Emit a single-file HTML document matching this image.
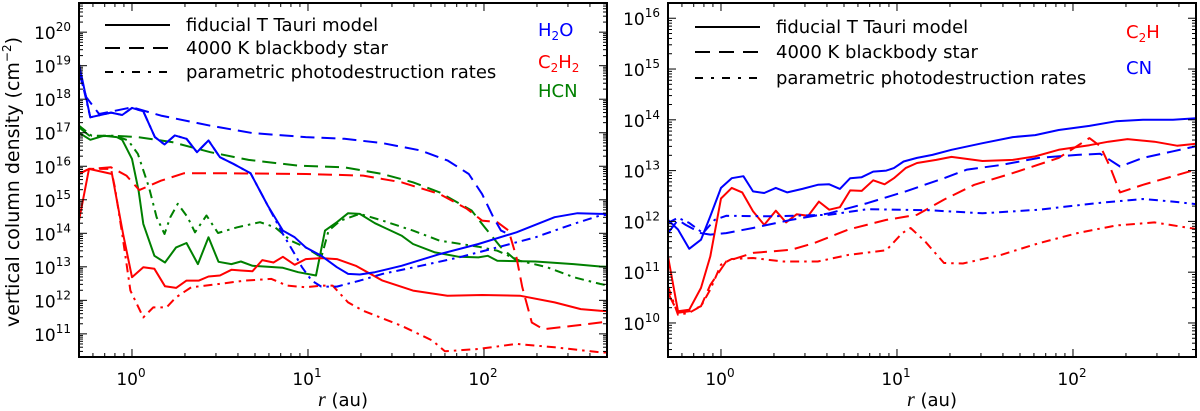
<!DOCTYPE html>
<html><head><meta charset="utf-8"><style>
html,body{margin:0;padding:0;background:#fff;}
svg{display:block;font-family:"DejaVu Sans","Liberation Sans",sans-serif;}
</style></head><body>
<svg id="chart" width="1200" height="411" viewBox="0 0 1200 411" xmlns="http://www.w3.org/2000/svg"></svg>
<script>
// ---------- Left panel data (r in au, log10 N in cm^-2) ----------
const h2oFidR=[0.5,0.58,0.76,0.88,1.0,1.16,1.35,1.53,1.75,2.04,2.34,2.72,3.16,3.77,4.72,5.9,7.2,8.4,9.7,11.9,14.6,16.9,19.7,24,34,56,93,153,252,340,457,500];
const h2oFidN=[19.05,17.46,17.6,17.53,17.74,17.64,16.87,16.65,16.92,16.82,16.42,16.77,16.27,16.07,15.79,14.83,14.08,13.88,13.58,13.33,12.99,12.79,12.77,12.84,13.03,13.38,13.68,14.03,14.48,14.6,14.58,14.58];
const h2oBbR=[0.5,0.55,0.65,1.0,1.46,2.79,4.84,9.7,16.1,26.5,43.7,62.3,82,97.6,113,125,138];
const h2oBbN=[18.8,18.06,17.56,17.76,17.51,17.21,16.99,16.87,16.82,16.69,16.47,16.17,15.77,15.17,14.48,14.08,13.98];
const h2oParR=[0.5,0.58,0.76,0.88,1.0,1.16,1.35,1.53,1.75,2.04,2.34,2.72,3.16,3.77,4.72,5.9,7.2,8.4,9.25,10.5,11.9,14.6,19.7,26.5,43.7,72,119,196,323,457,500];
const h2oParN=[18.9,17.46,17.6,17.53,17.74,17.64,16.87,16.65,16.92,16.82,16.42,16.77,16.27,16.07,15.79,14.83,13.98,13.38,12.99,12.59,12.41,12.41,12.59,12.79,13.03,13.28,13.58,13.88,14.28,14.53,14.55];
const hcnFidR=[0.5,0.58,0.69,0.82,0.88,1.0,1.09,1.16,1.34,1.54,1.78,2.04,2.37,2.72,3.1,3.67,4.16,4.84,5.9,7.2,8.8,11.1,12.5,14.6,16.9,19.7,24,34,39.5,52.7,72,93,105,119,196,323,457,500];
const hcnFidN=[17.0,16.79,16.91,16.87,16.79,16.22,15.27,14.28,13.33,13.13,13.58,13.71,13.08,13.88,13.15,13.08,13.16,13.03,13.0,12.97,12.84,12.74,14.08,14.33,14.6,14.58,14.3,13.93,13.68,13.43,13.3,13.28,13.33,13.18,13.16,13.08,13.01,13.0];
const hcnBbR=[0.5,0.58,0.8,1.08,1.69,2.79,4.6,8.8,16.1,26.5,39.5,56,85,101,125,153,165];
const hcnBbN=[17.16,16.89,16.91,16.87,16.72,16.42,16.19,16.02,15.97,15.77,15.52,15.22,14.68,14.18,13.58,13.18,13.1];
const hcnParR=[0.5,0.59,0.8,0.95,1.08,1.25,1.38,1.53,1.65,1.82,2.07,2.28,2.65,3.08,3.96,5.34,6.5,7.99,9.7,11.9,13.1,15.3,19.7,26.5,39.5,56,93,119,160,228,323,457,500];
const hcnParN=[17.21,16.91,16.91,16.77,16.37,15.37,14.48,13.98,14.48,14.88,14.48,14.03,14.53,14.01,14.18,14.33,14.18,13.78,13.58,13.28,14.08,14.38,14.58,14.38,14.08,13.78,13.6,13.48,13.18,12.99,12.69,12.49,12.45];
const c2h2FidR=[0.5,0.57,0.77,0.89,1.0,1.16,1.34,1.54,1.78,2.04,2.4,2.72,3.16,3.67,4.16,4.84,5.5,6.37,7.2,8.4,9.7,11.9,14.6,18.7,26.5,39.5,62,97.6,160,252,355,457,500];
const c2h2FidN=[14.38,15.92,15.77,13.98,12.69,12.99,12.94,12.42,12.37,12.59,12.59,12.71,12.74,12.91,12.89,12.87,13.2,13.13,13.3,13.06,13.23,13.26,13.23,13.03,12.59,12.29,12.14,12.16,12.14,11.94,11.74,11.69,11.68];
const c2h2BbR=[0.5,0.57,0.76,0.93,1.1,1.46,1.97,3.58,9.7,20.6,34,56,80,97.6,119,138,153,165,187,217,323,457,500];
const c2h2BbN=[15.77,15.92,15.97,15.72,15.29,15.57,15.79,15.79,15.77,15.72,15.52,15.17,14.73,14.38,14.33,14.08,13.28,12.39,11.34,11.14,11.24,11.34,11.36];
const c2h2ParR=[0.5,0.57,0.76,0.8,0.88,0.98,1.16,1.32,1.57,1.78,2.17,2.93,4.38,6.2,7.6,9.7,11.9,13.8,16.9,20.6,34,51,60,93,153,252,457,500];
const c2h2ParN=[15.77,15.92,15.92,15.37,13.98,12.29,11.49,11.79,11.79,12.09,12.39,12.47,12.59,12.64,12.44,12.39,12.44,12.44,11.94,11.69,11.24,10.8,10.48,10.55,10.7,10.6,10.45,10.44];
// ---------- Right panel data ----------
const cnFidR=[0.5,0.57,0.66,0.77,0.87,1.0,1.15,1.34,1.52,1.76,2.05,2.38,2.9,3.55,4.12,4.74,5.42,6.3,7.33,8.7,9.6,10.9,12.99,15.9,20.4,30.6,45.5,61,83,124,175,250,370,500];
const cnFidN=[12.03,11.84,11.46,11.64,12.1,12.66,12.85,12.89,12.59,12.56,12.66,12.57,12.64,12.72,12.73,12.64,12.85,12.87,12.98,13.0,13.05,13.18,13.25,13.31,13.41,13.54,13.66,13.7,13.8,13.88,13.97,14.0,14.0,14.03];
const c2hFidR=[0.5,0.57,0.66,0.77,0.87,1.0,1.15,1.32,1.52,1.76,2.05,2.34,2.69,3.13,3.6,4.12,4.74,5.42,6.3,7.33,8.5,9.6,11.2,12.99,16.7,20.4,30.6,45.5,61,83,124,159,204,290,390,500];
const c2hFidN=[11.31,10.23,10.26,10.69,11.31,12.45,12.66,12.57,12.2,11.93,12.21,11.98,12.14,12.11,12.39,12.23,12.28,12.61,12.6,12.81,12.73,12.85,13.05,13.15,13.21,13.27,13.19,13.21,13.28,13.41,13.5,13.57,13.62,13.57,13.49,13.53];
const cnBbR=[0.5,0.57,0.63,0.77,0.87,1.07,1.52,2.5,4.12,6.8,11.2,18.5,25,39,64,106,143,185,250,370,500];
const cnBbN=[11.77,12.03,11.93,11.77,11.74,11.77,11.87,12.03,12.16,12.36,12.59,12.85,13.02,13.11,13.25,13.31,13.33,13.08,13.25,13.38,13.48];
const c2hBbR=[0.5,0.57,0.66,0.77,0.87,1.07,1.52,2.5,3.37,5.3,8.7,12.99,18.5,27.5,45.5,83,124,143,162,185,250,370,500];
const c2hBbN=[10.59,10.2,10.23,10.33,10.75,11.21,11.38,11.44,11.57,11.84,12.03,12.13,12.43,12.72,12.95,13.25,13.64,13.48,13.08,12.57,12.72,12.89,13.02];
const cnParR=[0.5,0.57,0.66,0.79,0.92,1.07,1.95,4.12,6.8,15.1,30.6,64,137,250,370,500];
const cnParN=[11.97,12.07,11.97,11.77,12.03,12.11,12.1,12.13,12.24,12.22,12.16,12.23,12.36,12.44,12.39,12.34];
const c2hParR=[0.5,0.57,0.66,0.77,0.87,1.0,1.15,1.52,2.26,3.55,5.3,8.7,10.7,11.95,14.4,18.5,23.7,39,64,106,175,290,500];
const c2hParN=[10.72,10.16,10.2,10.33,10.66,11.15,11.26,11.28,11.21,11.21,11.34,11.43,11.77,11.87,11.61,11.18,11.17,11.34,11.57,11.77,11.92,11.98,11.85];
// tick labels
const xTickExps=[0,1,2];
const leftYTickExps=[11,12,13,14,15,16,17,18,19,20];
const rightYTickExps=[10,11,12,13,14,15,16];
const legendLabels=["fiducial T Tauri model","4000 K blackbody star","parametric photodestruction rates"];

const NS="http://www.w3.org/2000/svg";
const svg=document.getElementById('chart');
function mk(tag,attrs,parent){const e=document.createElementNS(NS,tag);for(const k in attrs)e.setAttribute(k,attrs[k]);(parent||svg).appendChild(e);return e;}
const DASH={solid:null,dash:"14,7",dashdot:"9,5,2.5,5"};

function panel(p){
  const {x0,x1,y0,y1,xmin,xmax,ymin,ymax,id}=p;
  const g=mk('g',{});
  
  
  const sx=r=>x0+(Math.log10(r)-Math.log10(xmin))/(Math.log10(xmax)-Math.log10(xmin))*(x1-x0);
  const sy=l=>y1-(l-ymin)/(ymax-ymin)*(y1-y0);
  const defs=mk('defs',{},g);
  const cp=mk('clipPath',{id:id+'-clip'},defs);
  mk('rect',{x:x0,y:y0,width:x1-x0,height:y1-y0},cp);
  const plot=mk('g',{'clip-path':'url(#'+id+'-clip)'},g);
  
  
  p.series.forEach(s=>{
    let d='';
    s.r.forEach((r,i)=>{d+=(i?'L':'M')+sx(r).toFixed(1)+','+sy(s.n[i]).toFixed(1);});
    const a={d:d,fill:'none',stroke:s.c,'stroke-width':2,'stroke-linejoin':'round'};
    if(DASH[s.st])a['stroke-dasharray']=DASH[s.st];
    const e=mk('path',a,plot);
    
    
  });
  const tk=mk('g',{stroke:'#000','stroke-width':1},g);
  
  
  for(let e=Math.floor(Math.log10(xmin));e<=Math.ceil(Math.log10(xmax));e++){
    for(let m=1;m<10;m++){
      const r=m*Math.pow(10,e); if(r<xmin||r>xmax)continue;
      const X=sx(r), L=m===1?8:4;
      mk('line',{x1:X,y1:y1,x2:X,y2:y1-L},tk);
      mk('line',{x1:X,y1:y0,x2:X,y2:y0+L},tk);
    }
  }
  for(let e=Math.floor(ymin);e<=Math.ceil(ymax);e++){
    for(let m=1;m<10;m++){
      const l=e+Math.log10(m); if(l<ymin||l>ymax)continue;
      const Y=sy(l), L=m===1?8:4;
      mk('line',{x1:x0,y1:Y,x2:x0+L,y2:Y},tk);
      mk('line',{x1:x1,y1:Y,x2:x1-L,y2:Y},tk);
    }
  }
  const fr=mk('rect',{x:x0,y:y0,width:x1-x0,height:y1-y0,fill:'none',stroke:'#000','stroke-width':2},g);
  
  
  xTickExps.forEach(e=>{
    const t=mk('text',{x:sx(Math.pow(10,e))-1,y:y1+28,'text-anchor':'middle','font-size':17},g);
    
    
    t.innerHTML='10<tspan font-size="12" dy="-8">'+e+'</tspan>';
  });
  p.yticks.forEach(e=>{
    const t=mk('text',{x:x0-8,y:sy(e)+7,'text-anchor':'end','font-size':17},g);
    
    
    t.innerHTML='10<tspan font-size="12" dy="-8">'+e+'</tspan>';
  });
  const xl=mk('text',{x:(x0+x1)/2,y:y1+49,'text-anchor':'middle','font-size':18},g);
  
  
  xl.innerHTML='<tspan font-family="Liberation Serif,serif" font-style="italic" font-size="20">r</tspan> (au)';
  const lg=mk('g',{},g);
  
  
  ['solid','dash','dashdot'].forEach((st,i)=>{
    const Y=p.legY[i];
    const a={x1:p.legX,y1:Y,x2:p.legX+65,y2:Y,stroke:'#000','stroke-width':2};
    if(DASH[st])a['stroke-dasharray']=st==='dash'?'15,9':'8,8,3,8';
    const ln=mk('line',a,lg);
    
    
    const t=mk('text',{x:p.legX+81,y:Y+6,'font-size':18},lg);
    
    
    t.textContent=legendLabels[i];
  });
  p.species.forEach(s=>{
    const t=mk('text',{x:s.x,y:s.y,'font-size':18,fill:s.c},g);
    
    
    t.innerHTML=s.html;
  });
}
const B='#0000ff',R='#ff0000',G='#008000';
panel({id:'left',x0:79,x1:607,y0:3,y1:357,xmin:0.5,xmax:500,ymin:10.31,ymax:20.87,yticks:leftYTickExps,
  legX:105,legY:[25,48,72],
  species:[{key:'h2o',x:538,y:36,c:B,html:'H<tspan font-size="12" dy="4">2</tspan><tspan dy="-4">O</tspan>'},
           {key:'c2h2',x:538,y:68,c:R,html:'C<tspan font-size="12" dy="4">2</tspan><tspan dy="-4">H</tspan><tspan font-size="12" dy="4">2</tspan>'},
           {key:'hcn',x:538,y:97,c:G,html:'HCN'}],
  series:[
    {name:'hcn-par-line',r:hcnParR,n:hcnParN,c:G,st:'dashdot'},
    {name:'hcn-bb-line',r:hcnBbR,n:hcnBbN,c:G,st:'dash'},
    {name:'hcn-fid-line',r:hcnFidR,n:hcnFidN,c:G,st:'solid'},
    {name:'c2h2-par-line',r:c2h2ParR,n:c2h2ParN,c:R,st:'dashdot'},
    {name:'c2h2-bb-line',r:c2h2BbR,n:c2h2BbN,c:R,st:'dash'},
    {name:'c2h2-fid-line',r:c2h2FidR,n:c2h2FidN,c:R,st:'solid'},
    {name:'h2o-par-line',r:h2oParR,n:h2oParN,c:B,st:'dashdot'},
    {name:'h2o-bb-line',r:h2oBbR,n:h2oBbN,c:B,st:'dash'},
    {name:'h2o-fid-line',r:h2oFidR,n:h2oFidN,c:B,st:'solid'}]});
panel({id:'right',x0:668,x1:1196,y0:3,y1:357,xmin:0.5,xmax:500,ymin:9.33,ymax:16.3,yticks:rightYTickExps,
  legX:695,legY:[27,52,78],
  species:[{key:'c2h',x:1126,y:38,c:R,html:'C<tspan font-size="12" dy="4">2</tspan><tspan dy="-4">H</tspan>'},
           {key:'cn',x:1126,y:74,c:B,html:'CN'}],
  series:[
    {name:'c2h-par-line',r:c2hParR,n:c2hParN,c:R,st:'dashdot'},
    {name:'c2h-bb-line',r:c2hBbR,n:c2hBbN,c:R,st:'dash'},
    {name:'c2h-fid-line',r:c2hFidR,n:c2hFidN,c:R,st:'solid'},
    {name:'cn-par-line',r:cnParR,n:cnParN,c:B,st:'dashdot'},
    {name:'cn-bb-line',r:cnBbR,n:cnBbN,c:B,st:'dash'},
    {name:'cn-fid-line',r:cnFidR,n:cnFidN,c:B,st:'solid'}]});
const yt=mk('text',{x:0,y:0,'font-size':19,'text-anchor':'middle',transform:'translate(19,182) rotate(-90)'});


yt.innerHTML='vertical column density (cm<tspan font-size="12" dy="-8">−2</tspan><tspan dy="8">)</tspan>';
</script>
</body></html>
